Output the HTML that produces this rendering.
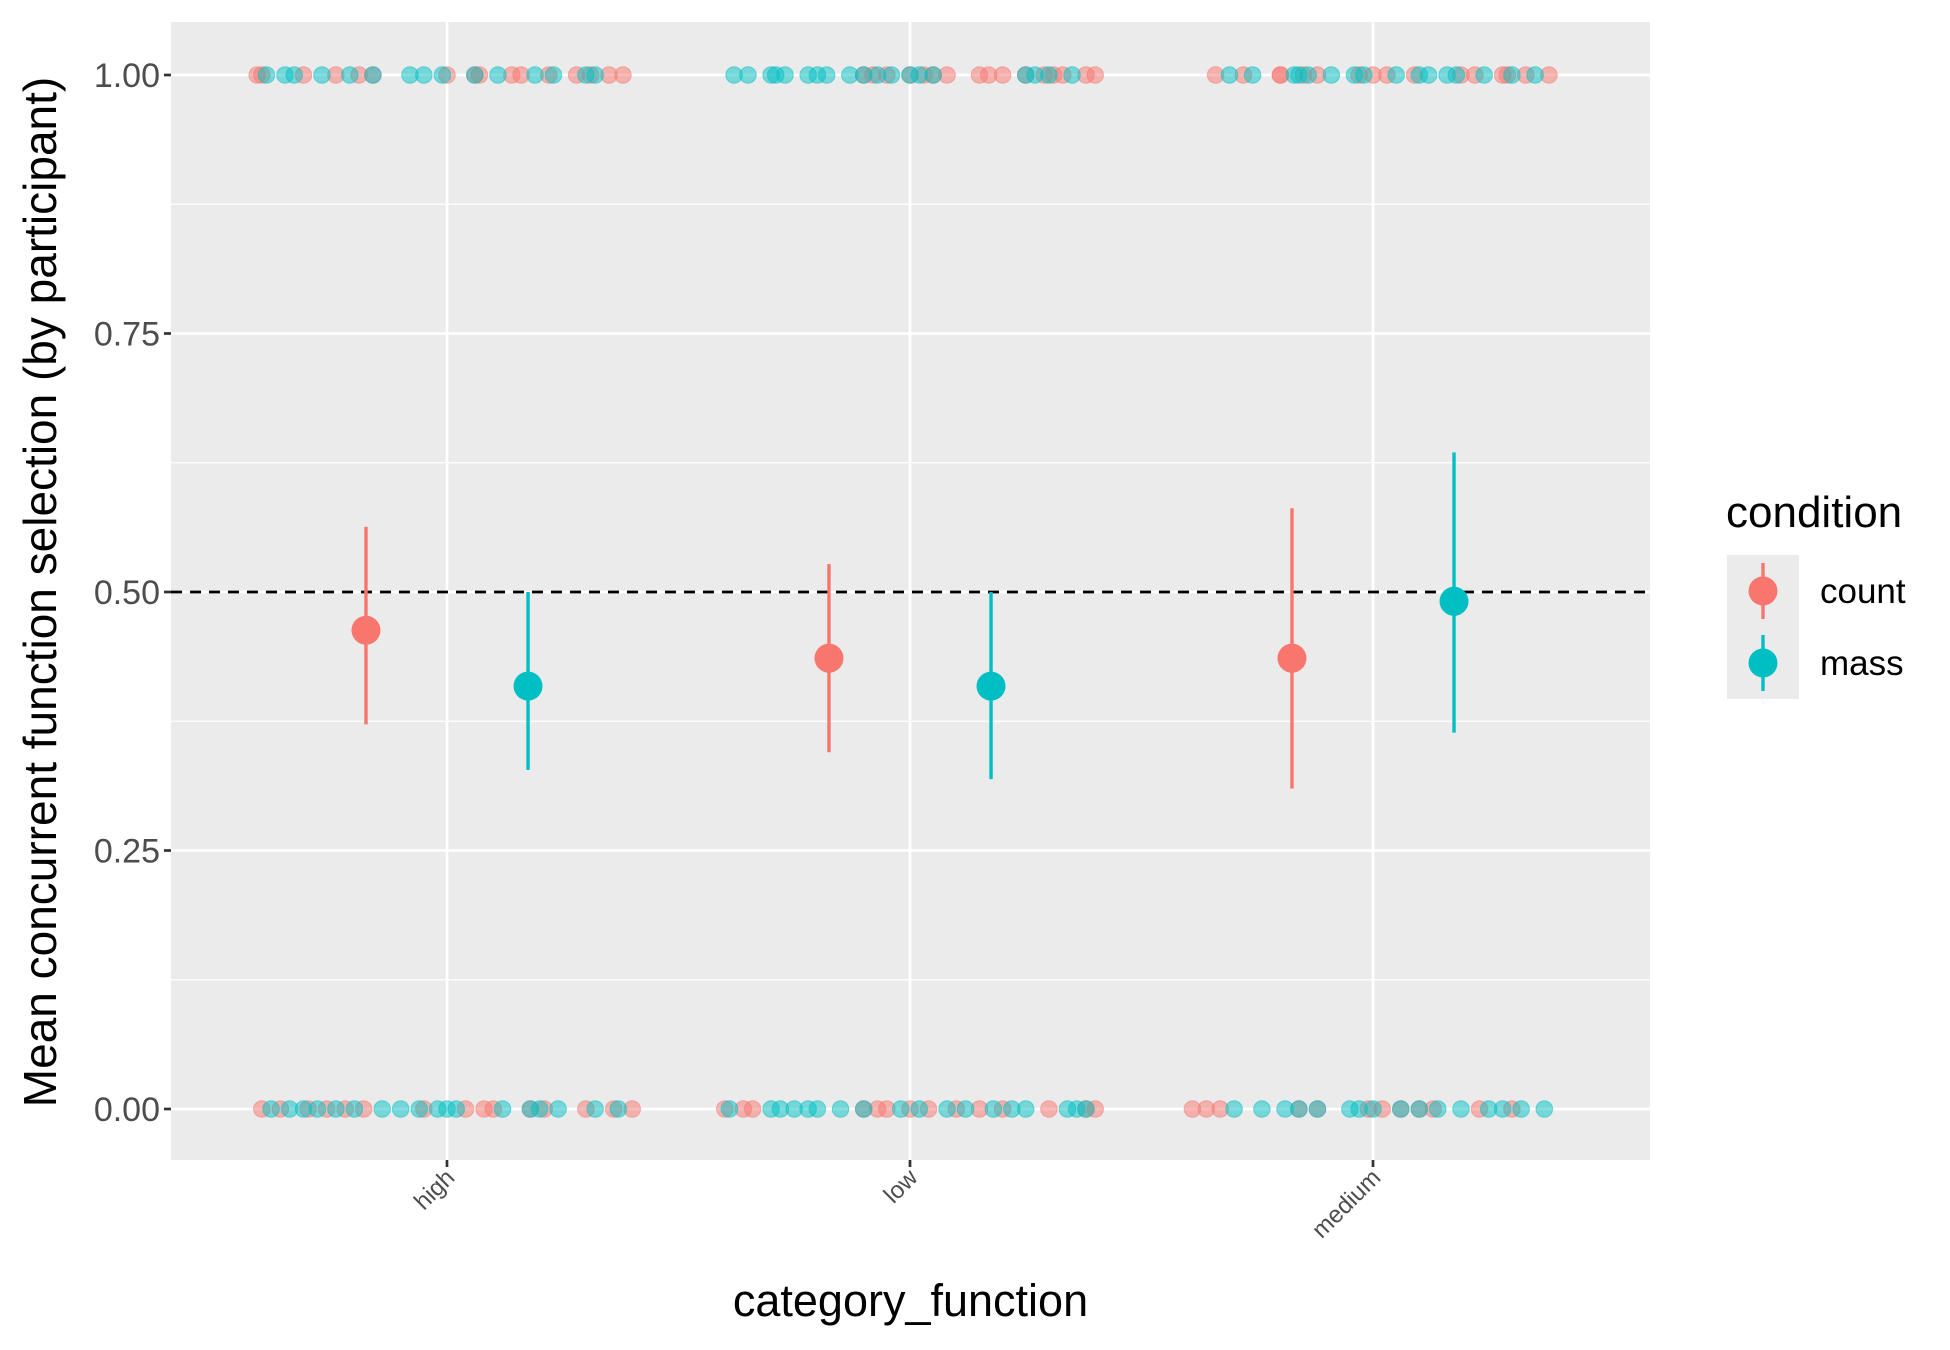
<!DOCTYPE html>
<html><head><meta charset="utf-8"><style>html,body{margin:0;padding:0;background:#fff}svg{display:block}text{font-family:"Liberation Sans",Arial,sans-serif}</style></head>
<body>
<svg id="chart" width="1950" height="1350" viewBox="0 0 1950 1350" xmlns="http://www.w3.org/2000/svg">
<rect x="0" y="0" width="1950" height="1350" fill="#fff"/>
<g id="panel"></g>
<g id="axes"></g>
<g id="legend"></g>
</svg>
<script>
const categories = ["high","low","medium"];
const meanCount = [0.463, 0.436, 0.436];
const lowCount = [0.372, 0.345, 0.310];
const highCount = [0.563, 0.527, 0.581];
const meanMass = [0.409, 0.409, 0.491];
const lowMass = [0.328, 0.319, 0.364];
const highMass = [0.500, 0.500, 0.635];
const yTicks = [0, 0.25, 0.5, 0.75, 1];
const yTickLabels = ["0.00","0.25","0.50","0.75","1.00"];
// jittered participant points: offsets from category centre (category units)
const countTop = [
 [-0.41,-0.40,-0.31,-0.24,-0.19,-0.16,0.0,0.06,0.07,0.14,0.16,0.22,0.28,0.31,0.35,0.38],
 [-0.10,-0.08,-0.05,0.0,0.03,0.05,0.08,0.15,0.17,0.2,0.25,0.29,0.31,0.33,0.38,0.40],
 [-0.34,-0.28,-0.2,-0.2,-0.15,-0.12,-0.03,0.0,0.03,0.09,0.19,0.22,0.28,0.29,0.33,0.38]];
const massTop = [
 [-0.39,-0.35,-0.33,-0.27,-0.21,-0.16,-0.08,-0.05,-0.01,0.06,0.11,0.19,0.23,0.30,0.32],
 [-0.38,-0.35,-0.3,-0.29,-0.27,-0.22,-0.2,-0.18,-0.13,-0.1,-0.07,-0.04,0.0,0.02,0.05,0.25,0.27,0.30,0.35],
 [-0.31,-0.26,-0.17,-0.16,-0.14,-0.09,-0.04,-0.02,0.05,0.1,0.12,0.16,0.18,0.24,0.3,0.35]];
const countBottom = [
 [-0.40,-0.36,-0.30,-0.26,-0.22,-0.18,-0.05,0.04,0.08,0.10,0.18,0.21,0.30,0.36,0.40],
 [-0.40,-0.36,-0.34,-0.1,-0.07,-0.05,0.0,0.04,0.1,0.15,0.2,0.3,0.38,0.40],
 [-0.39,-0.36,-0.33,-0.16,-0.12,-0.01,0.02,0.06,0.1,0.13,0.23,0.30]];
const massBottom = [
 [-0.38,-0.34,-0.31,-0.28,-0.24,-0.20,-0.14,-0.1,-0.06,-0.02,0.0,0.02,0.12,0.18,0.2,0.24,0.32,0.37],
 [-0.39,-0.30,-0.28,-0.25,-0.22,-0.2,-0.15,-0.1,-0.02,0.02,0.08,0.12,0.18,0.22,0.25,0.34,0.36,0.38],
 [-0.30,-0.24,-0.19,-0.16,-0.12,-0.05,-0.03,0.0,0.06,0.1,0.14,0.19,0.25,0.28,0.32,0.37]];

const NS="http://www.w3.org/2000/svg";
const PL=171, PR=1650, PT=22, PB=1160;
const RED="#F8766D", TEAL="#00BFC4";
function yS(v){ return 1109 - v*(1109-75); }
function xS(c){ return 447 + c*463; }
function mk(tag, attrs, parent){ const e=document.createElementNS(NS,tag); for(const k in attrs) e.setAttribute(k,attrs[k]); parent.appendChild(e); return e; }
const panel=document.getElementById('panel'), axes=document.getElementById('axes'), legend=document.getElementById('legend');

const bg=mk('rect',{x:PL,y:PT,width:PR-PL,height:PB-PT,fill:'#EBEBEB'},panel);


for(let i=0;i<yTicks.length-1;i++){
  const v=(yTicks[i]+yTicks[i+1])/2;
  const l=mk('line',{x1:PL,x2:PR,y1:yS(v),y2:yS(v),stroke:'#fff','stroke-width':1.3},panel);
  
  
}
yTicks.forEach((v,i)=>{
  const l=mk('line',{x1:PL,x2:PR,y1:yS(v),y2:yS(v),stroke:'#fff','stroke-width':2.7},panel);
  
  
  const t=mk('line',{x1:PL-7,x2:PL,y1:yS(v),y2:yS(v),stroke:'#333','stroke-width':2.7},axes);
  
  
  const tx=mk('text',{x:PL-11,y:yS(v)+12,'text-anchor':'end','font-size':34,fill:'#4D4D4D'},axes);
  tx.textContent=yTickLabels[i];
  
  
});
categories.forEach((c,i)=>{
  const l=mk('line',{x1:xS(i),x2:xS(i),y1:PT,y2:PB,stroke:'#fff','stroke-width':2.7},panel);
  
  
  const t=mk('line',{x1:xS(i),x2:xS(i),y1:PB,y2:PB+7,stroke:'#333','stroke-width':2.7},axes);
  
  
  const tx=mk('text',{x:0,y:0,'text-anchor':'end','font-size':24,fill:'#4D4D4D',transform:`translate(${xS(i)+9},${PB+19}) rotate(-45)`},axes);
  tx.textContent=c;
  
  
});
function jit(arr, yv, color, name){
  arr.forEach((offs,i)=>offs.forEach(o=>{
    const p=mk('circle',{cx:xS(i+o),cy:yS(yv),r:8.3,fill:color,'fill-opacity':0.5,stroke:color,'stroke-opacity':0.5,'stroke-width':1},panel);
    
    
  }));
}
jit(countTop,1,RED,'count-participant-point');
jit(massTop,1,TEAL,'mass-participant-point');
jit(countBottom,0,RED,'count-participant-point');
jit(massBottom,0,TEAL,'mass-participant-point');
const dl=mk('line',{x1:PL,x2:PR,y1:yS(0.5),y2:yS(0.5),stroke:'#000','stroke-width':2.8,'stroke-dasharray':'11,8'},panel);


function summ(m,lo,hi,off,color,name){
  categories.forEach((c,i)=>{
    const x=xS(i+off);
    const e=mk('line',{x1:x,x2:x,y1:yS(lo[i]),y2:yS(hi[i]),stroke:color,'stroke-width':3.4},panel);
    
    
    const p=mk('circle',{cx:x,cy:yS(m[i]),r:14.5,fill:color},panel);
    
    
  });
}
summ(meanCount,lowCount,highCount,-0.175,RED,'count');
summ(meanMass,lowMass,highMass,0.175,TEAL,'mass');

const yt=mk('text',{x:0,y:0,'text-anchor':'middle','font-size':46,fill:'#000',transform:`translate(56,${yS(0.5)}) rotate(-90)`},axes);
yt.textContent='Mean concurrent function selection (by participant)';


const xt=mk('text',{x:(PL+PR)/2,y:1316,'text-anchor':'middle','font-size':45,fill:'#000'},axes);
xt.textContent='category_function';



const lt=mk('text',{x:1726,y:527,'font-size':44,fill:'#000'},legend);
lt.textContent='condition';


[["count",RED,591],["mass",TEAL,663]].forEach(([lab,col,cy])=>{
  const g=mk('g',{},legend);
  
  
  mk('rect',{x:1727,y:cy-36,width:72,height:72,fill:'#EBEBEB'},g);
  mk('line',{x1:1763,x2:1763,y1:cy-28,y2:cy+28,stroke:col,'stroke-width':3.4},g);
  mk('circle',{cx:1763,cy:cy,r:14.5,fill:col},g);
  const t=mk('text',{x:1820,y:cy+12,'font-size':35,fill:'#000'},g);
  t.textContent=lab;
});
</script>
</body></html>
